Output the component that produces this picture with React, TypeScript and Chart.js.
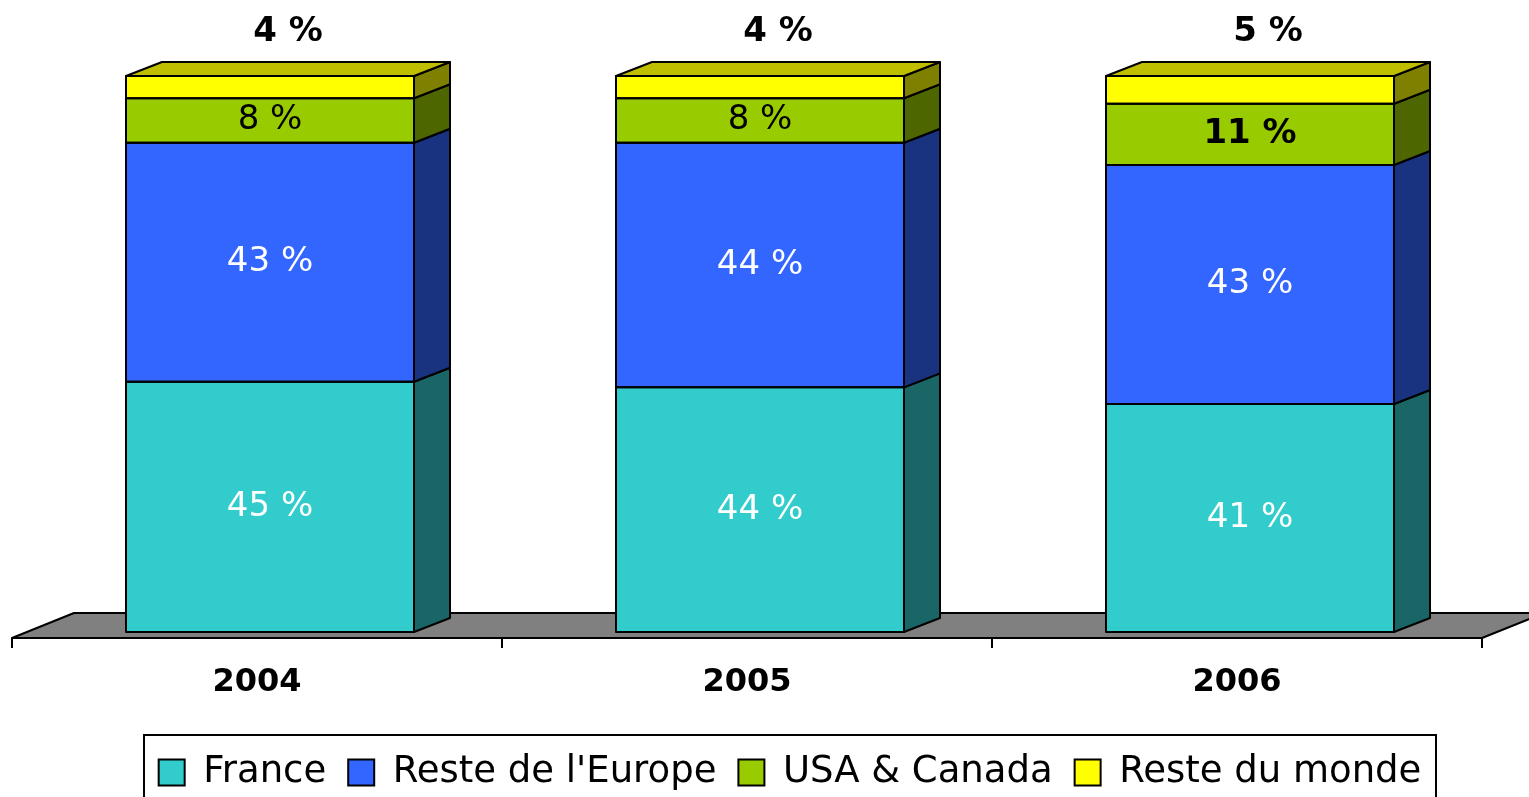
import React, { useEffect, useRef } from "react";
import { Chart, registerables } from "chart.js";

Chart.register(...registerables);

const categories = ["2004", "2005", "2006"];
const seriesNames = ["France", "Reste de l'Europe", "USA & Canada", "Reste du monde"];
const france = [45, 44, 41];
const resteEurope = [43, 44, 43];
const usaCanada = [8, 8, 11];
const resteMonde = [4, 4, 5];
const usaBold = [false, false, true];

const frontColors = ["#33CCCC", "#3366FF", "#99CC00", "#FFFF00"];
const sideColors = ["#1A6666", "#1A3380", "#4D6600", "#808000"];
const topColors = ["#26999A", "#264DBF", "#739900", "#BFBF00"];
const labelColors = ["#FFFFFF", "#FFFFFF", "#000000", "#000000"];

const FONT = '"DejaVu Sans", Verdana, sans-serif';
const DX = 36;
const DY = -14;
const FLOOR_SX = -13;
const FLOOR_SY = 6;
const FLOOR_DX = 62;
const FLOOR_DY = -25;
const LEGEND_PAD = 22;

const threeD = {
  id: "threeD",
  afterLayout(chart: any) {
    const lg = chart.legend;
    if (lg) {
      lg.left += 30;
      lg.right += 30;
    }
  },
  beforeDatasetsDraw(chart: any) {
    const { ctx, chartArea: ca } = chart;
    const x0 = ca.left + FLOOR_SX;
    const x1 = ca.right + FLOOR_SX;
    const y = ca.bottom + FLOOR_SY;
    ctx.save();
    ctx.lineJoin = "round";
    ctx.beginPath();
    ctx.moveTo(x0, y);
    ctx.lineTo(x1, y);
    ctx.lineTo(x1 + FLOOR_DX, y + FLOOR_DY);
    ctx.lineTo(x0 + FLOOR_DX, y + FLOOR_DY);
    ctx.closePath();
    ctx.fillStyle = "#808080";
    ctx.fill();
    ctx.lineWidth = 2;
    ctx.strokeStyle = "#000";
    ctx.stroke();
    const n = categories.length;
    const catW = (ca.right - ca.left) / n;
    ctx.lineWidth = 2;
    for (let i = 0; i <= n; i++) {
      const tx = Math.round(ca.left + i * catW + FLOOR_SX);
      ctx.beginPath();
      ctx.moveTo(tx, y);
      ctx.lineTo(tx, y + 10);
      ctx.stroke();
    }
    ctx.restore();
  },
  afterDatasetsDraw(chart: any) {
    const { ctx } = chart;
    const nds = chart.data.datasets.length;
    ctx.save();
    ctx.lineJoin = "round";
    ctx.lineWidth = 2;
    ctx.strokeStyle = "#000";
    for (let di = 0; di < nds; di++) {
      const meta = chart.getDatasetMeta(di);
      meta.data.forEach((el: any) => {
        const { x, y, base, width } = el.getProps(["x", "y", "base", "width"], true);
        const l = x - width / 2;
        const r = x + width / 2;
        const t = Math.min(y, base);
        const b = Math.max(y, base);
        ctx.beginPath();
        ctx.moveTo(r, t);
        ctx.lineTo(r + DX, t + DY);
        ctx.lineTo(r + DX, b + DY);
        ctx.lineTo(r, b);
        ctx.closePath();
        ctx.fillStyle = sideColors[di];
        ctx.fill();
        ctx.stroke();
        if (di === nds - 1) {
          ctx.beginPath();
          ctx.moveTo(l, t);
          ctx.lineTo(l + DX, t + DY);
          ctx.lineTo(r + DX, t + DY);
          ctx.lineTo(r, t);
          ctx.closePath();
          ctx.fillStyle = topColors[di];
          ctx.fill();
          ctx.stroke();
        }
        ctx.strokeRect(l, t, width, b - t);
      });
    }
    ctx.textAlign = "center";
    ctx.textBaseline = "middle";
    for (let di = 0; di < nds; di++) {
      const meta = chart.getDatasetMeta(di);
      const values = chart.data.datasets[di].data;
      meta.data.forEach((el: any, j: number) => {
        const { x, y, base } = el.getProps(["x", "y", "base"], true);
        const t = Math.min(y, base);
        const b = Math.max(y, base);
        const txt = `${values[j]} %`;
        if (di === nds - 1) {
          ctx.font = `bold 34px ${FONT}`;
          ctx.fillStyle = "#000";
          ctx.fillText(txt, x + DX / 2, t + DY - 30);
        } else {
          const bold = di === 2 && usaBold[j];
          ctx.font = `${bold ? "bold" : "normal"} 34px ${FONT}`;
          ctx.fillStyle = labelColors[di];
          ctx.fillText(txt, x, (t + b) / 2);
        }
      });
    }
    ctx.restore();
  },
  afterDraw(chart: any) {
    const lg = chart.legend;
    if (!lg || !lg.lineWidths) return;
    const { ctx } = chart;
    const p = LEGEND_PAD;
    const lw = lg.lineWidths[0];
    const startX = (lg.left + p + lg.right - lw) / 2;
    const endX = startX + lw - p;
    ctx.save();
    ctx.strokeStyle = "#000";
    ctx.lineWidth = 2;
    ctx.strokeRect(Math.round(startX - 15), 735, Math.round(endX - startX + 29), 80);
    ctx.restore();
  },
};

export default function App() {
  const ref = useRef<HTMLCanvasElement | null>(null);
  useEffect(() => {
    document.body.style.margin = "0";
    const canvas = ref.current;
    if (!canvas) return;
    const seriesData = [france, resteEurope, usaCanada, resteMonde];
    const chart = new Chart(canvas, {
      type: "bar",
      data: {
        labels: categories,
        datasets: seriesData.map((d, i) => ({
          label: seriesNames[i],
          data: d,
          backgroundColor: frontColors[i],
          borderColor: "#000",
          borderWidth: 0,
          categoryPercentage: 1,
          barPercentage: 288 / 490,
        })),
      },
      options: {
        responsive: false,
        maintainAspectRatio: false,
        animation: false,
        devicePixelRatio: 1,
        layout: { padding: { left: 25, right: 34, top: 76, bottom: -4 } },
        scales: {
          x: {
            stacked: true,
            grid: { display: false, drawTicks: false },
            border: { display: false },
            ticks: {
              padding: 31,
              labelOffset: -13,
              color: "#000",
              font: { family: FONT, size: 32, weight: "bold" },
            },
            afterFit: (scale: any) => {
              scale.height = 100;
            },
          },
          y: {
            stacked: true,
            display: false,
            min: 0,
            max: 100,
          },
        },
        plugins: {
          tooltip: { enabled: false },
          legend: {
            position: "bottom",
            labels: {
              color: "#000",
              boxWidth: 26,
              boxHeight: 26,
              padding: LEGEND_PAD,
              font: { family: FONT, size: 37 },
              generateLabels: (c: any) =>
                Chart.defaults.plugins.legend.labels
                  .generateLabels(c)
                  .map((l: any) => ({ ...l, lineWidth: 2, strokeStyle: "#000" })),
            },
          },
        },
      } as any,
      plugins: [threeD],
    });
    return () => chart.destroy();
  }, []);
  return (
    <div style={{ width: 1529, height: 797, overflow: "hidden" }}>
      <canvas ref={ref} width={1529} height={797} style={{ display: "block" }} />
    </div>
  );
}
